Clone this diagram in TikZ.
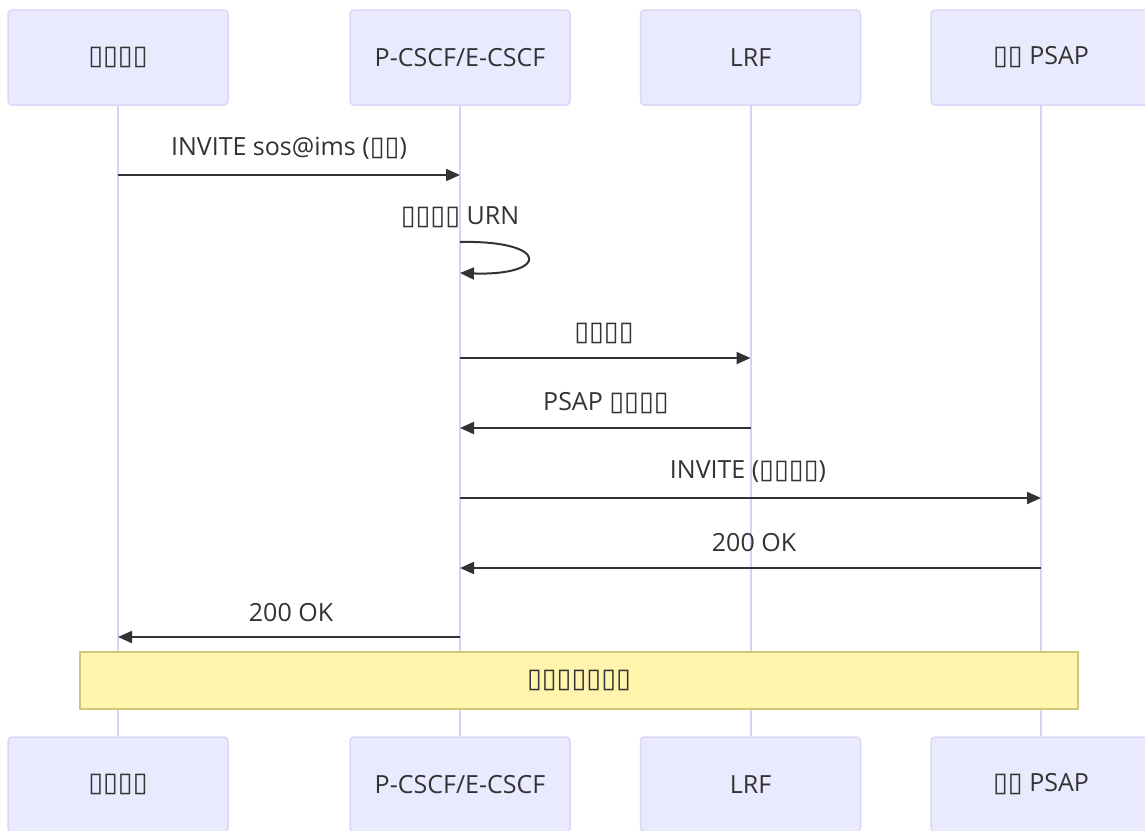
\documentclass[tikz,border=0pt]{standalone}
\usepackage{fontspec}
\setmainfont{Open Sans}
\newfontfamily\symf{DejaVu Sans}
\usetikzlibrary{arrows.meta}
\definecolor{actfill}{HTML}{EAEAFF}
\definecolor{actline}{HTML}{DDD6F6}
\definecolor{lifel}{HTML}{DAD2F2}
\definecolor{txt}{HTML}{333333}
\definecolor{notefill}{HTML}{FFF5AD}
\definecolor{noteline}{HTML}{CFC77E}
\newcommand\tofu[1]{{\symf\fontsize{27}{24}\selectfont #1}}
\begin{document}
\begin{tikzpicture}[x=1pt,y=-1pt,
  actor/.style={draw=actline, line width=1.5pt, fill=actfill, rounded corners=4pt,
    minimum width=220pt, minimum height=95pt, text=txt, inner sep=0pt,
    font=\fontsize{25}{29}\selectfont},
  life/.style={draw=lifel, line width=2pt},
  msg/.style={draw=txt, line width=2pt, -{Triangle[length=14pt,width=12pt]}},
  lbl/.style={text=txt, inner sep=0pt, font=\fontsize{25}{29}\selectfont},
  note/.style={draw=noteline, line width=1.5pt, fill=notefill, minimum width=998pt,
    minimum height=57pt, text=txt, inner sep=0pt, font=\fontsize{25}{29}\selectfont}]
\useasboundingbox (0,0) rectangle (1145,830);
\fill[white] (0,0) rectangle (1145,830);
% actors
\node[actor] (a1) at (118,57.5) {\tofu{▯▯▯▯}};
\node[actor] (a2) at (460,57.5) {P-CSCF/E-CSCF};
\node[actor] (a3) at (750.5,57.5) {LRF};
\node[actor] (a4) at (1041,57.5) {\tofu{▯▯} PSAP};
\node[actor] (b1) at (118,784.5) {\tofu{▯▯▯▯}};
\node[actor] (b2) at (460,784.5) {P-CSCF/E-CSCF};
\node[actor] (b3) at (750.5,784.5) {LRF};
\node[actor] (b4) at (1041,784.5) {\tofu{▯▯} PSAP};
% lifelines
\draw[life] (a1.south) -- (b1.north);
\draw[life] (a2.south) -- (b2.north);
\draw[life] (a3.south) -- (b3.north);
\draw[life] (a4.south) -- (b4.north);
% message 1
\coordinate (p1a) at (118,175); \coordinate (p1b) at (460,175);
\draw[msg] (p1a) -- (p1b);
\node[lbl] (l1) at (289,148) {INVITE sos@ims (\tofu{▯▯})};
% message 2 (self)
\coordinate (p2a) at (460,242); \coordinate (p2b) at (460,273);
\draw[msg] (p2a) .. controls (550,240) and (550,276) .. (p2b);
\node[lbl] (l2) at (460,217) {\tofu{▯▯▯▯} URN};
% message 3
\coordinate (p3a) at (460,358); \coordinate (p3b) at (750.5,358);
\draw[msg] (p3a) -- (p3b);
\node[lbl] (l3) at (604,333) {\tofu{▯▯▯▯}};
% message 4
\coordinate (p4a) at (750.5,428); \coordinate (p4b) at (460,428);
\draw[msg] (p4a) -- (p4b);
\node[lbl] (l4) at (606,403) {PSAP \tofu{▯▯▯▯}};
% message 5
\coordinate (p5a) at (460,498); \coordinate (p5b) at (1041,498);
\draw[msg] (p5a) -- (p5b);
\node[lbl] (l5) at (748,472) {INVITE (\tofu{▯▯▯▯})};
% message 6
\coordinate (p6a) at (1041,568); \coordinate (p6b) at (460,568);
\draw[msg] (p6a) -- (p6b);
\node[lbl] (l6) at (754,543) {200 OK};
% message 7
\coordinate (p7a) at (460,637); \coordinate (p7b) at (118,637);
\draw[msg] (p7a) -- (p7b);
\node[lbl] (l7) at (291,613) {200 OK};
% note
\node[note] (n1) at (579,680.5) {\tofu{▯▯▯▯▯▯▯}};
\end{tikzpicture}
\end{document}
